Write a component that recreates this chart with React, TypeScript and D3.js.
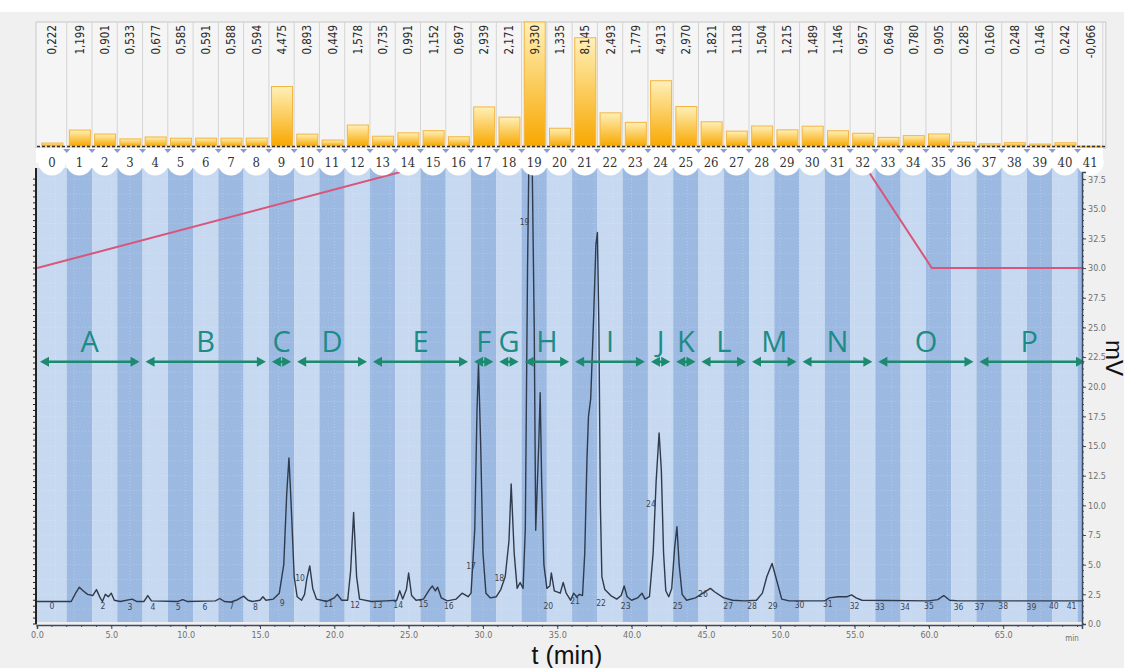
import React, { useEffect, useRef } from "react";
import * as d3 from "d3";

// fraction start times (min); last fraction ends at 71.7
const fractionStart = [
  0, 2.0, 3.7, 5.4, 7.1, 8.8, 10.5, 12.2, 13.9, 15.6, 17.3, 19.0, 20.7, 22.4,
  24.1, 25.8, 27.5, 29.2, 30.9, 32.6, 34.3, 36.0, 37.7, 39.4, 41.1, 42.8, 44.5,
  46.2, 47.9, 49.6, 51.3, 53.0, 54.7, 56.4, 58.1, 59.8, 61.5, 63.2, 64.9, 66.6,
  68.3, 70.0,
];
const fractionLastEnd = 71.7;

// integrated value per fraction (top panel)
const fractionValues = [
  0.222, 1.199, 0.901, 0.533, 0.677, 0.585, 0.591, 0.588, 0.594, 4.475, 0.893,
  0.449, 1.578, 0.735, 0.991, 1.152, 0.697, 2.939, 2.171, 9.33, 1.335, 8.145,
  2.493, 1.779, 4.913, 2.97, 1.821, 1.118, 1.504, 1.215, 1.489, 1.146, 0.957,
  0.649, 0.78, 0.905, 0.285, 0.16, 0.248, 0.146, 0.242, -0.066,
];

// pooled regions: letter + first fraction index
const regionLetters = ["A", "B", "C", "D", "E", "F", "G", "H", "I", "J", "K", "L", "M", "N", "O", "P"];
const regionFirstFraction = [0, 4, 9, 10, 13, 17, 18, 19, 21, 24, 25, 26, 28, 30, 33, 37];

// chromatogram trace (min, mV)
const traceTime = [
  0, 2.3, 2.6, 2.85, 3.1, 3.4, 3.75, 4.0, 4.25, 4.4, 4.6, 4.8, 5.0, 5.2, 5.6,
  6.4, 6.7, 7.2, 7.45, 7.7, 9.5, 9.8, 10.1, 12.0, 12.3, 12.6, 13.0, 13.4, 13.9,
  14.2, 14.5, 15.0, 15.2, 15.4, 15.9, 16.3, 16.6, 16.8, 16.95, 17.1, 17.3, 17.5,
  17.8, 18.0, 18.15, 18.35, 18.55, 18.8, 19.5, 20.0, 20.2, 20.5, 20.9, 21.1,
  21.3, 21.5, 21.7, 22.5, 23.5, 24.2, 24.4, 24.6, 24.85, 25.0, 25.2, 25.5, 26.0,
  26.4, 26.6, 26.8, 26.95, 27.2, 27.6, 28.2, 28.6, 29.0, 29.2, 29.45, 29.6,
  29.7, 29.85, 30.0, 30.2, 30.5, 30.9, 31.2, 31.5, 31.75, 31.9, 32.1, 32.3,
  32.5, 32.7, 32.85, 33.0, 33.1, 33.3, 33.45, 33.55, 33.75, 33.85, 33.95, 34.1,
  34.3, 34.5, 34.6, 34.8, 35.2, 35.4, 35.6, 35.9, 36.1, 36.3, 36.5, 36.7,
  36.85, 37.0, 37.1, 37.25, 37.45, 37.6, 37.7, 37.8, 37.9, 38.0, 38.2, 38.6,
  39.0, 39.3, 39.5, 39.7, 40.0, 40.4, 40.7, 40.9, 41.2, 41.45, 41.65, 41.85,
  42.0, 42.15, 42.3, 42.5, 42.7, 42.9, 43.05, 43.2, 43.4, 43.7, 44.3, 44.8,
  45.3, 45.6, 46.2, 46.8, 47.6, 48.4, 48.8, 49.1, 49.45, 49.8, 50.1, 50.6, 53.0,
  53.3, 53.9, 54.5, 54.8, 55.1, 55.5, 60.0, 60.6, 61.0, 61.4, 62.0, 70.3,
];
const traceMv = [
  1.9, 1.9, 2.6, 3.1, 2.8, 2.5, 2.4, 2.9, 2.2, 1.9, 2.5, 2.3, 2.6, 2.0, 1.9,
  2.1, 1.9, 1.9, 2.4, 1.95, 1.9, 2.05, 1.9, 1.95, 2.15, 1.9, 1.85, 2.0, 2.35,
  2.0, 1.9, 2.0, 2.3, 2.0, 2.1, 2.6, 5.0, 11.0, 14.0, 10.0, 4.0, 2.3,
  2.0, 2.5, 3.8, 4.9, 3.0, 2.1, 1.9, 2.2, 2.5, 2.0, 2.0, 4.5,
  9.4, 4.0, 2.1, 1.9, 1.95, 2.0, 2.8, 2.1, 2.9, 4.3, 2.4, 2.0, 2.1,
  2.9, 3.2, 2.8, 3.1, 2.2, 1.95, 2.1, 2.6, 2.3, 2.6, 8.0, 18.0,
  22.0, 15.0, 6.0, 2.6, 2.2, 2.3, 2.9, 4.0, 7.0, 11.8, 6.0, 3.0,
  3.5, 3.0, 8.0, 30.0, 40.0, 40.0, 25.0, 7.9, 15.0, 19.5, 12.0, 5.0,
  3.0, 3.2, 4.3, 2.8, 2.6, 3.5, 2.6, 2.0, 2.6, 2.3, 2.5, 2.4,
  6.0, 14.0, 17.5, 19.0, 26.0, 32.0, 33.0, 25.0, 10.0, 4.0, 2.9, 2.4,
  2.1, 2.4, 3.2, 2.3, 2.0, 2.2, 2.6, 2.1, 2.3, 6.0, 12.0, 16.1,
  13.0, 6.0, 2.8, 2.3, 3.0, 6.5, 8.2, 5.0, 2.5, 2.0, 2.2, 2.6,
  3.0, 2.7, 2.2, 2.0, 1.95, 2.0, 2.6, 4.0, 5.1, 3.5, 2.1, 1.95, 1.95,
  2.2, 2.3, 2.3, 2.45, 2.2, 2.0, 1.95, 2.05, 2.4, 2.0, 1.95, 1.95,
];

// solvent gradient trace, drawn on the mV scale
const gradientTime = [0, 45, 52.4, 60.2, 70.3];
const gradientMv = [30, 44.9, 44.9, 30, 30];

// peak / fraction number labels on the trace
const peakLabelIds = [
  0, 2, 3, 4, 5, 6, 7, 8, 9, 10, 11, 12, 13, 14, 15, 16, 17, 18, 19, 20, 21, 22,
  23, 24, 25, 26, 27, 28, 29, 30, 31, 32, 33, 34, 35, 36, 37, 38, 39, 40, 41,
];
const peakLabelTime = [
  1.0, 4.44, 6.26, 7.8, 9.5, 11.3, 13.1, 14.7, 16.5, 17.7, 19.6, 21.4, 22.9,
  24.3, 26.0, 27.7, 29.2, 31.1, 32.8, 34.4, 36.2, 37.95, 39.6, 41.3, 43.1, 44.8,
  46.5, 48.1, 49.5, 51.3, 53.2, 55.0, 56.7, 58.4, 60.0, 62.0, 63.4, 65.0, 66.9,
  68.4, 69.6,
];
const peakLabelMv = [
  1.5, 1.5, 1.4, 1.4, 1.4, 1.4, 1.5, 1.4, 1.8, 3.9, 1.7, 1.6, 1.6, 1.6, 1.7,
  1.5, 4.9, 3.9, 33.9, 1.5, 1.9, 1.8, 1.5, 10.1, 1.5, 2.5, 1.5, 1.5, 1.5, 1.6,
  1.7, 1.5, 1.4, 1.4, 1.5, 1.4, 1.4, 1.5, 1.4, 1.5, 1.5,
];

const mvTicks = [0, 2.5, 5, 7.5, 10, 12.5, 15, 17.5, 20, 22.5, 25, 27.5, 30, 32.5, 35, 37.5];
const timeTicks = [0, 5, 10, 15, 20, 25, 30, 35, 40, 45, 50, 55, 60, 65];

const W = 1134;
const H = 668;

const App = () => {
  const svgRef = useRef<SVGSVGElement>(null);

  useEffect(() => {
    const svg = d3.select(svgRef.current);
    svg.selectAll("*").remove();

    const plot = { left: 37, right: 1082, top: 172, bottom: 624 };
    const x = d3.scaleLinear().domain([0, 70.3]).range([plot.left, plot.right]);
    const y = d3.scaleLinear().domain([0, 38.1]).range([plot.bottom, plot.top]);
    const barTop = 22;
    const barBase = 146;
    const yBar = d3.scaleLinear().domain([0, 9.33]).range([barBase, barTop]);

    const fracEnd = (i: number) =>
      i < fractionStart.length - 1 ? fractionStart[i + 1] : fractionLastEnd;
    const fracMid = (i: number) => (fractionStart[i] + fracEnd(i)) / 2;

    const comma = d3.formatLocale({
      decimal: ",",
      thousands: ".",
      grouping: [3],
      currency: ["", ""],
      minus: "-",
    });
    const fmt3 = comma.format(".3f");

    // page backgrounds
    svg.append("rect").attr("width", W).attr("height", H).attr("fill", "#ffffff");
    svg.append("rect").attr("x", 0).attr("y", 12).attr("width", 1124).attr("height", H - 12).attr("fill", "#f0f0f0");

    const defs = svg.append("defs");
    const grad = defs
      .append("linearGradient")
      .attr("id", "barGrad")
      .attr("x1", "0%")
      .attr("y1", "0%")
      .attr("x2", "0%")
      .attr("y2", "100%");
    grad.append("stop").attr("offset", "0%").attr("stop-color", "#fff0b8");
    grad.append("stop").attr("offset", "100%").attr("stop-color", "#f8a800");

    defs
      .append("clipPath")
      .attr("id", "plotClip")
      .append("rect")
      .attr("x", plot.left)
      .attr("y", plot.top)
      .attr("width", plot.right - plot.left)
      .attr("height", plot.bottom - plot.top);

    // ---- top panel: fraction values ----
    const panelRight = x(fractionLastEnd) + 3;
    svg
      .append("rect")
      .attr("x", plot.left - 1)
      .attr("y", barTop)
      .attr("width", panelRight - plot.left + 1)
      .attr("height", barBase - barTop + 2)
      .attr("fill", "#f5f5f5")
      .attr("stroke", "#c8c8c8");

    svg
      .append("g")
      .selectAll("line")
      .data(fractionStart.slice(1).concat([fractionLastEnd]))
      .join("line")
      .attr("x1", (d) => x(d))
      .attr("x2", (d) => x(d))
      .attr("y1", barTop)
      .attr("y2", barBase)
      .attr("stroke", "#d4d4d4");

    svg
      .append("g")
      .selectAll("rect")
      .data(fractionValues)
      .join("rect")
      .attr("x", (d, i) => x(fracMid(i)) - 10)
      .attr("width", 21)
      .attr("y", (d) => Math.min(yBar(d), barBase))
      .attr("height", (d) => Math.max(Math.abs(yBar(d) - barBase), 1))
      .attr("fill", "url(#barGrad)")
      .attr("stroke", "#f3b440")
      .attr("stroke-width", 1);

    svg
      .append("line")
      .attr("x1", plot.left)
      .attr("x2", panelRight)
      .attr("y1", barBase + 0.5)
      .attr("y2", barBase + 0.5)
      .attr("stroke", "#333")
      .attr("stroke-width", 1.5)
      .attr("stroke-dasharray", "3,2");

    svg
      .append("g")
      .selectAll("text")
      .data(fractionValues)
      .join("text")
      .attr("transform", (d, i) => `translate(${x(fracMid(i)) + 4.5},${barTop + 3}) rotate(-90)`)
      .attr("text-anchor", "end")
      .attr("font-family", "'DejaVu Sans Condensed', 'Liberation Sans Narrow', sans-serif")
      .attr("font-size", 11.5)
      .attr("fill", "#2a2a2a")
      .text((d) => fmt3(d));

    // ---- chromatogram area ----
    const plotG = svg.append("g");
    plotG
      .selectAll("rect")
      .data(fractionStart)
      .join("rect")
      .attr("x", (d) => x(d))
      .attr("width", (d, i) => Math.max(0, Math.min(x(fracEnd(i)), plot.right) - x(d)))
      .attr("y", plot.top - 4)
      .attr("height", plot.bottom - plot.top + 2)
      .attr("fill", (d, i) => (i % 2 === 0 ? "#c6d9f1" : "#9cb9e1"));

    // faint grid
    const gridG = plotG.append("g").attr("stroke", "#ffffff").attr("stroke-opacity", 0.22).attr("stroke-dasharray", "1,2");
    gridG
      .selectAll("line.h")
      .data(d3.range(1.25, 38, 1.25))
      .join("line")
      .attr("class", "h")
      .attr("x1", plot.left)
      .attr("x2", plot.right)
      .attr("y1", (d) => y(d))
      .attr("y2", (d) => y(d));
    gridG
      .selectAll("line.v")
      .data(d3.range(1.25, 70.3, 1.25))
      .join("line")
      .attr("class", "v")
      .attr("x1", (d) => x(d))
      .attr("x2", (d) => x(d))
      .attr("y1", plot.top)
      .attr("y2", plot.bottom);

    // gradient line
    const gradLine = d3
      .line<number>()
      .x((d, i) => x(gradientTime[i]))
      .y((d) => y(d));
    svg
      .append("path")
      .attr("clip-path", "url(#plotClip)")
      .attr("d", gradLine(gradientMv))
      .attr("fill", "none")
      .attr("stroke", "#d9557a")
      .attr("stroke-width", 2);

    // chromatogram
    const traceLine = d3
      .line<number>()
      .x((d, i) => x(traceTime[i]))
      .y((d) => y(d));
    svg
      .append("path")
      .attr("clip-path", "url(#plotClip)")
      .attr("d", traceLine(traceMv))
      .attr("fill", "none")
      .attr("stroke", "#2f3b4c")
      .attr("stroke-width", 1.4)
      .attr("stroke-linejoin", "round");

    // peak labels
    svg
      .append("g")
      .selectAll("text")
      .data(peakLabelIds)
      .join("text")
      .attr("x", (d, i) => x(peakLabelTime[i]))
      .attr("y", (d, i) => y(peakLabelMv[i]) + 3)
      .attr("text-anchor", "middle")
      .attr("font-family", "'DejaVu Sans Condensed', sans-serif")
      .attr("font-size", 8.5)
      .attr("fill", "#3c4656")
      .text((d) => d);

    // region arrows and letters
    const arrowY = y(22.1);
    const arrowColor = "#1b8a6f";
    const arrowG = svg.append("g");
    regionLetters.forEach((letter, r) => {
      const t0 = fractionStart[regionFirstFraction[r]];
      const t1 = r < regionLetters.length - 1 ? fractionStart[regionFirstFraction[r + 1]] : 70.3;
      const xa = x(t0) + 3;
      const xb = r < regionLetters.length - 1 ? x(t1) - 3 : x(t1) + 3;
      arrowG
        .append("line")
        .attr("x1", xa + 4)
        .attr("x2", xb - 4)
        .attr("y1", arrowY)
        .attr("y2", arrowY)
        .attr("stroke", arrowColor)
        .attr("stroke-width", 2.5);
      arrowG
        .append("path")
        .attr("d", `M${xa},${arrowY} L${xa + 9},${arrowY - 5} L${xa + 9},${arrowY + 5} Z`)
        .attr("fill", arrowColor);
      arrowG
        .append("path")
        .attr("d", `M${xb},${arrowY} L${xb - 9},${arrowY - 5} L${xb - 9},${arrowY + 5} Z`)
        .attr("fill", arrowColor);
      arrowG
        .append("text")
        .attr("x", (x(t0) + x(t1)) / 2)
        .attr("y", arrowY - 10)
        .attr("text-anchor", "middle")
        .attr("font-family", "'Open Sans', sans-serif")
        .attr("font-size", 29)
        .attr("fill", "#1d8b86")
        .text(letter);
    });

    // ---- fraction number row (scalloped circles) ----
    const rowG = svg.append("g");
    rowG
      .append("rect")
      .attr("x", plot.left - 1)
      .attr("y", barBase + 2)
      .attr("width", x(fractionLastEnd) - plot.left + 1)
      .attr("height", 15)
      .attr("fill", "#ffffff");
    rowG
      .selectAll("circle")
      .data(fractionStart)
      .join("circle")
      .attr("cx", (d, i) => x(fracMid(i)))
      .attr("cy", 162)
      .attr("r", 13.5)
      .attr("fill", "#ffffff");
    rowG
      .selectAll("path.marker")
      .data(fractionStart.slice(1))
      .join("path")
      .attr("class", "marker")
      .attr("d", (d) => `M${x(d) - 3.5},${barBase + 3} L${x(d) + 3.5},${barBase + 3} L${x(d)},${barBase + 7} Z`)
      .attr("fill", "#8a9ad0");
    rowG
      .selectAll("text")
      .data(fractionStart)
      .join("text")
      .attr("x", (d, i) => x(fracMid(i)))
      .attr("y", 167)
      .attr("text-anchor", "middle")
      .attr("font-family", "'DejaVu Serif Condensed', 'Liberation Serif', serif")
      .attr("font-size", 13)
      .attr("fill", "#333")
      .text((d, i) => i);

    // ---- axes ----
    // right axis (mV)
    const yAxis = svg
      .append("g")
      .attr("transform", `translate(${plot.right},0)`)
      .call(
        d3
          .axisRight(y)
          .tickValues(mvTicks)
          .tickSize(4)
          .tickFormat((d) => d3.format(".1f")(d as number))
      );
    yAxis.select(".domain").attr("stroke", "#3a4a60").attr("stroke-width", 1.5);
    yAxis.selectAll(".tick line").attr("stroke", "#3a4a60");
    yAxis
      .selectAll(".tick text")
      .attr("font-family", "'DejaVu Sans Condensed', sans-serif")
      .attr("font-size", 9)
      .attr("fill", "#707070")
      .attr("x", 6);
    svg
      .append("g")
      .selectAll("line")
      .data(d3.range(0, 38, 0.5))
      .join("line")
      .attr("x1", plot.right)
      .attr("x2", plot.right + 2)
      .attr("y1", (d) => y(d))
      .attr("y2", (d) => y(d))
      .attr("stroke", "#3a4a60");

    // left axis (ticks only)
    svg
      .append("line")
      .attr("x1", plot.left - 1)
      .attr("x2", plot.left - 1)
      .attr("y1", plot.top - 4)
      .attr("y2", plot.bottom)
      .attr("stroke", "#222")
      .attr("stroke-width", 2);
    svg
      .append("g")
      .selectAll("line")
      .data(d3.range(0, 38, 0.5))
      .join("line")
      .attr("x1", plot.left - 4)
      .attr("x2", plot.left)
      .attr("y1", (d) => y(d))
      .attr("y2", (d) => y(d))
      .attr("stroke", "#222");

    // bottom axis (time)
    const xAxis = svg
      .append("g")
      .attr("transform", `translate(0,${plot.bottom + 1})`)
      .call(
        d3
          .axisBottom(x)
          .tickValues(timeTicks)
          .tickSize(4)
          .tickFormat((d) => d3.format(".1f")(d as number))
      );
    xAxis.select(".domain").attr("stroke", "#3a4a60").attr("stroke-width", 1.5);
    xAxis.selectAll(".tick line").attr("stroke", "#3a4a60");
    xAxis
      .selectAll(".tick text")
      .attr("font-family", "'DejaVu Sans Condensed', sans-serif")
      .attr("font-size", 9)
      .attr("fill", "#707070")
      .attr("y", 7);
    svg
      .append("g")
      .selectAll("line")
      .data(d3.range(0, 70.3, 1))
      .join("line")
      .attr("x1", (d) => x(d))
      .attr("x2", (d) => x(d))
      .attr("y1", plot.bottom + 1)
      .attr("y2", plot.bottom + 3)
      .attr("stroke", "#3a4a60");
    svg
      .append("text")
      .attr("x", plot.right - 10)
      .attr("y", plot.bottom + 17)
      .attr("text-anchor", "middle")
      .attr("font-family", "'DejaVu Sans Condensed', sans-serif")
      .attr("font-size", 8)
      .attr("fill", "#707070")
      .text("min");

    // axis titles
    svg
      .append("text")
      .attr("x", 567)
      .attr("y", 664)
      .attr("text-anchor", "middle")
      .attr("font-family", "'Liberation Sans', Arial, sans-serif")
      .attr("font-size", 25)
      .attr("fill", "#111")
      .text("t (min)");
    svg
      .append("text")
      .attr("transform", `translate(1106,358) rotate(90)`)
      .attr("text-anchor", "middle")
      .attr("font-family", "'Liberation Sans', Arial, sans-serif")
      .attr("font-size", 24)
      .attr("fill", "#111")
      .text("mV");
  }, []);

  return (
    <div style={{ position: "fixed", left: 0, top: 0 }}>
      <svg ref={svgRef} width={W} height={H} style={{ display: "block" }}></svg>
    </div>
  );
};

export default App;
